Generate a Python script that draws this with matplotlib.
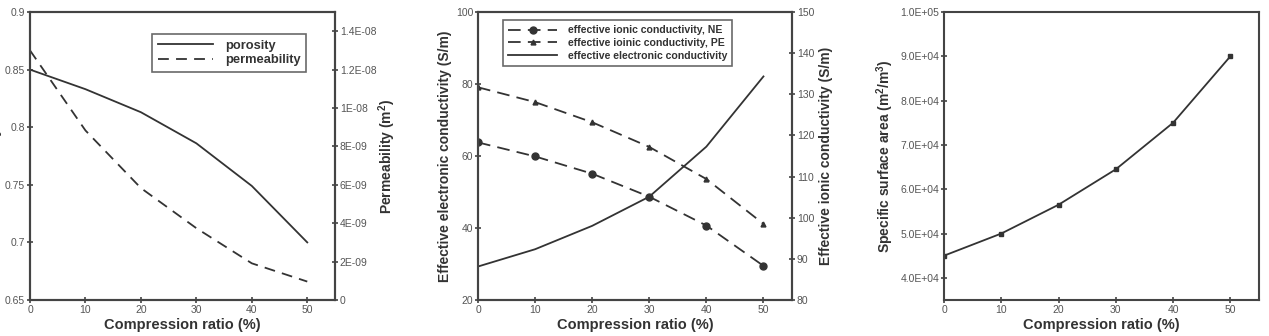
import matplotlib
matplotlib.use('Agg')
import matplotlib.pyplot as plt

# data
ratio = [0, 10, 20, 30, 40, 50]
porosity = [0.85, 0.833, 0.813, 0.786, 0.749, 0.70]
permeability = [1.30e-8, 8.83e-9, 5.83e-9, 3.74e-9, 1.91e-9, 0.96e-9]

elec_cond = [29.3, 34.1, 40.6, 48.7, 62.6, 82.1]
ionic_ne = [118.3, 114.9, 110.7, 105.1, 98.1, 88.3]
ionic_pe = [131.7, 128.1, 123.2, 117.2, 109.4, 98.5]

surface_area = [45000, 50000, 56500, 64500, 75000, 90000]

perm_ticks = [0, 2e-9, 4e-9, 6e-9, 8e-9, 1e-8, 1.2e-8, 1.4e-8]
perm_labels = ['0', '2E-09', '4E-09', '6E-09', '8E-09', '1E-08', '1.2E-08', '1.4E-08']
area_ticks = [40000, 50000, 60000, 70000, 80000, 90000, 100000]
area_labels = ['4.0E+04', '5.0E+04', '6.0E+04', '7.0E+04', '8.0E+04', '9.0E+04', '1.0E+05']

plt.rcParams['font.family'] = ['Liberation Sans', 'DejaVu Sans']
plt.rcParams['mathtext.fontset'] = 'custom'
plt.rcParams['mathtext.rm'] = 'Liberation Sans:bold'
plt.rcParams['mathtext.it'] = 'Liberation Sans:bold'
plt.rcParams['mathtext.bf'] = 'Liberation Sans:bold'

line_col = '#333333'
axis_col = '#444444'
tick_col = '#555555'


def style(ax):
	for s in ax.spines.values():
		s.set_color(axis_col)
		s.set_linewidth(1.5)
	ax.tick_params(direction='inout', length=5, width=1.2, color=axis_col,
				   labelsize=7.5, labelcolor=tick_col, pad=1)


def legend_style(leg):
	leg.get_frame().set_edgecolor(axis_col)
	leg.get_frame().set_linewidth(1.2)
	for t in leg.get_texts():
		t.set_fontweight('bold')
		t.set_color('#333333')


fig = plt.figure(figsize=(12.69, 3.36), dpi=100)
W, H = 1269.0, 336.0

# ---- panel 1 : porosity / permeability
ax1 = fig.add_axes([30 / W, 1 - 300 / H, 305 / W, 288 / H])
ax1r = ax1.twinx()
l1, = ax1.plot(ratio, porosity, color=line_col, lw=1.3, label='porosity')
l2, = ax1r.plot(ratio, permeability, color=line_col, lw=1.3, ls=(0, (6, 4)), label='permeability')
ax1.set_xlim(0, 55)
ax1.set_ylim(0.65, 0.9)
ax1.set_xticks([0, 10, 20, 30, 40, 50])
ax1.set_yticks([0.65, 0.7, 0.75, 0.8, 0.85, 0.9])
ax1.set_yticklabels(['0.65', '0.7', '0.75', '0.8', '0.85', '0.9'])
ax1r.set_ylim(0, 1.5e-8)
ax1r.set_yticks(perm_ticks)
ax1r.set_yticklabels(perm_labels)
ax1.set_xlabel('Compression ratio (%)', fontsize=10.5, fontweight='bold', color='#333333', labelpad=2)
ax1.set_ylabel('Porosity', fontsize=10.5, fontweight='bold', color='#333333')
ax1.yaxis.set_label_coords(-0.095, 0.5)
ax1r.set_ylabel(r'Permeability (m$^2$)', fontsize=10, fontweight='bold', color='#333333', labelpad=0)
style(ax1)
style(ax1r)
leg = ax1.legend(handles=[l1, l2], loc='upper left', bbox_to_anchor=(0.40, 0.924),
				 borderaxespad=0, fontsize=9.3, frameon=True, fancybox=False,
				 handlelength=4.3, handletextpad=0.9, borderpad=0.45, labelspacing=0.2)
legend_style(leg)

# ---- panel 2 : conductivities
ax2 = fig.add_axes([478 / W, 1 - 300 / H, 314 / W, 288 / H])
ax2r = ax2.twinx()
e1, = ax2r.plot(ratio, ionic_ne, color=line_col, lw=1.3, ls=(0, (7, 4)), marker='o', ms=5,
				label='effective ionic conductivity, NE')
e2, = ax2r.plot(ratio, ionic_pe, color=line_col, lw=1.3, ls=(0, (7, 4)), marker='^', ms=3.5,
				label='effective ioinic conductivity, PE')
e3, = ax2.plot(ratio, elec_cond, color=line_col, lw=1.3, label='effective electronic conductivity')
ax2.set_xlim(0, 55)
ax2.set_ylim(20, 100)
ax2.set_xticks([0, 10, 20, 30, 40, 50])
ax2.set_yticks([20, 40, 60, 80, 100])
ax2r.set_ylim(80, 150)
ax2r.set_yticks([80, 90, 100, 110, 120, 130, 140, 150])
ax2.set_xlabel('Compression ratio (%)', fontsize=10.5, fontweight='bold', color='#333333', labelpad=2)
ax2.set_ylabel('Effective electronic conductivity (S/m)', fontsize=10, fontweight='bold',
			   color='#333333', labelpad=3)
ax2r.set_ylabel('Effective ionic conductivity (S/m)', fontsize=10, fontweight='bold',
				color='#333333', labelpad=3)
style(ax2)
style(ax2r)
leg2 = ax2.legend(handles=[e1, e2, e3], loc='upper left', bbox_to_anchor=(0.08, 0.972),
				  borderaxespad=0, fontsize=7.6, frameon=True, fancybox=False,
				  handlelength=4.6, handletextpad=1.0, borderpad=0.5, labelspacing=0.25)
legend_style(leg2)

# ---- panel 3 : specific surface area
ax3 = fig.add_axes([944 / W, 1 - 300 / H, 315 / W, 288 / H])
ax3.plot(ratio, surface_area, color=line_col, lw=1.3, marker='s', ms=3.5)
ax3.set_xlim(0, 55)
ax3.set_ylim(35000, 100000)
ax3.set_xticks([0, 10, 20, 30, 40, 50])
ax3.set_yticks(area_ticks)
ax3.set_yticklabels(area_labels)
ax3.set_xlabel('Compression ratio (%)', fontsize=10.5, fontweight='bold', color='#333333', labelpad=2)
ax3.set_ylabel(r'Specific surface area (m$^2$/m$^3$)', fontsize=10, fontweight='bold',
			   color='#333333', labelpad=3)
style(ax3)

plt.savefig('out.png', dpi=100)
